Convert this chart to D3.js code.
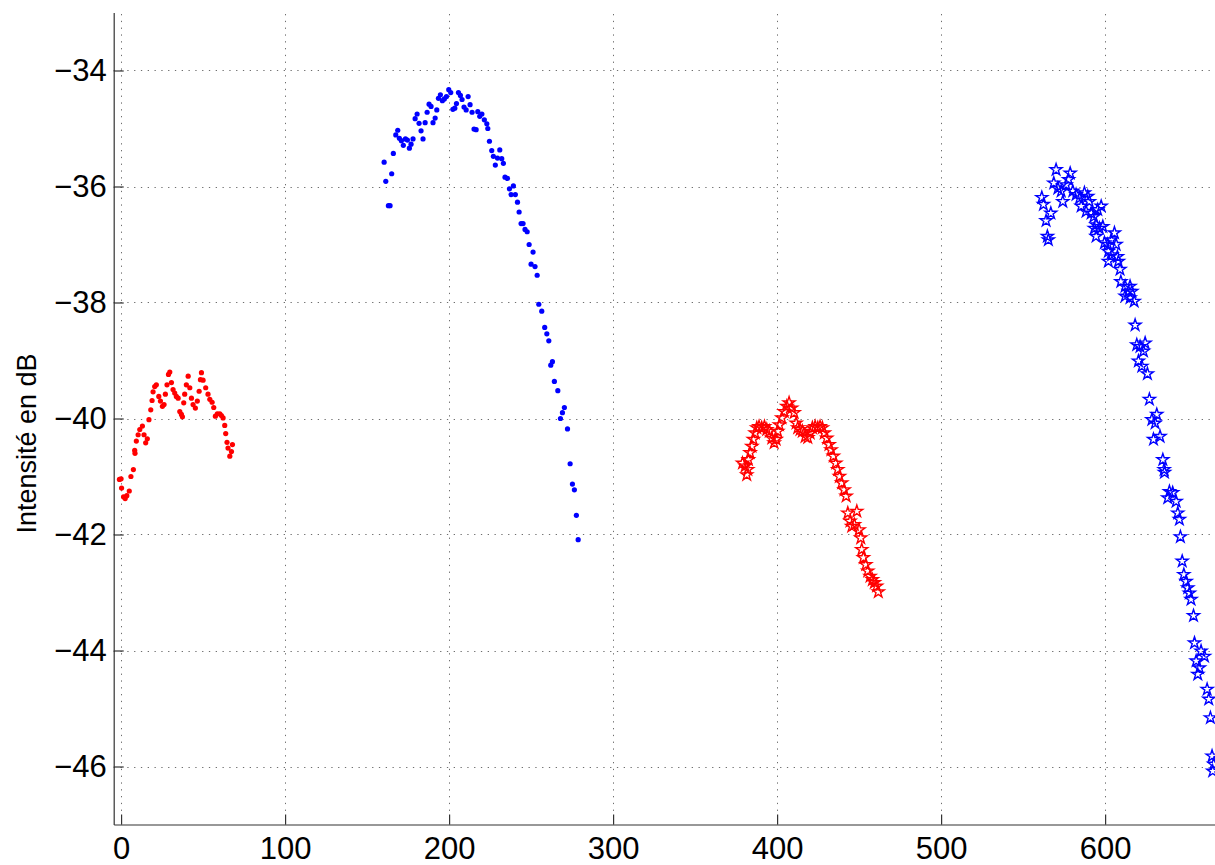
<!DOCTYPE html>
<html>
<head>
<meta charset="utf-8">
<script src="https://cdn.jsdelivr.net/npm/d3@7"></script>
<style>
  html, body { margin: 0; padding: 0; background: #fff; }
  svg { display: block; }
  text { font-family: "Liberation Sans", Arial, Helvetica, sans-serif; }
</style>
</head>
<body>
<svg id="chart" width="1215" height="865"></svg>
<script>
// ---- Data ----
const xTicks = [0, 100, 200, 300, 400, 500, 600];
const yTicks = [-46, -44, -42, -40, -38, -36, -34];
const yLabel = "Intensité en dB";

// Series 1: red dots
const s1x = [-1, 0, 0.3, 1.5, 2.5, 3.5, 5, 6, 7.5, 8.3, 8.5, 9.3, 10.4, 11.4, 13, 14, 15, 16, 17, 18.1, 18.9, 19.5, 20.5, 21.5, 23, 24, 25.2, 26.2, 27, 28, 28.9, 29.7, 30.7, 31.7, 32.7, 33.7, 34.8, 35.8, 36.8, 37.4, 38.2, 38.8, 39.8, 40.9, 41.9, 42.9, 43.9, 45.3, 46.5, 47.6, 48.4, 49, 50, 51.6, 53, 54.1, 55.5, 56.5, 57.5, 58.7, 60.2, 61.2, 62.2, 63.2, 63.8, 64.6, 65.2, 66.3, 67.3, 67.9];
const s1y = [-41.05, -41.04, -41.2, -41.35, -41.38, -41.33, -41.25, -41.0, -40.88, -40.55, -40.6, -40.39, -40.28, -40.19, -40.13, -40.28, -40.42, -40.35, -40.02, -39.85, -39.69, -39.54, -39.45, -39.42, -39.62, -39.7, -39.79, -39.76, -39.58, -39.42, -39.24, -39.2, -39.38, -39.5, -39.56, -39.62, -39.65, -39.88, -39.93, -39.97, -39.73, -39.58, -39.42, -39.27, -39.47, -39.65, -39.76, -39.82, -39.7, -39.53, -39.33, -39.21, -39.34, -39.47, -39.58, -39.67, -39.72, -39.81, -39.96, -39.92, -39.92, -39.95, -39.99, -40.12, -40.26, -40.41, -40.51, -40.65, -40.57, -40.45];

// Series 2: blue dots
const s2x = [160.4, 161.4, 163, 164, 165, 166, 167.5, 168.7, 169.7, 170.9, 172.1, 173.4, 174.6, 175.8, 176.8, 178, 179.3, 180.5, 181.7, 182.9, 184.1, 185.4, 186.6, 187.8, 189, 190.2, 191.5, 192.5, 193.5, 194.7, 195.9, 197.1, 198.4, 199.8, 201, 202.3, 203.5, 204.5, 205.7, 206.9, 207.9, 209.1, 210.4, 211.6, 212.8, 214, 215.2, 216.5, 217.5, 218.7, 220, 221.5, 223, 223.6, 224.6, 226, 227, 228.2, 229.5, 230.9, 232.1, 233.1, 234.1, 235.6, 236.8, 237.8, 239.2, 240.4, 241.7, 242.7, 243.9, 245.1, 246.3, 247.6, 248.8, 250, 251.2, 252.4, 253.7, 254.7, 256.5, 258.3, 259.6, 260.8, 262, 263, 264.2, 266.3, 267.9, 269.1, 270.3, 272.2, 273.8, 275.2, 276.4, 277.6, 278.7];
const s2y = [-35.58, -35.91, -36.33, -36.33, -35.78, -35.43, -35.11, -35.03, -35.17, -35.21, -35.29, -35.18, -35.2, -35.34, -35.27, -35.18, -34.83, -34.75, -34.91, -35.04, -35.18, -34.9, -34.72, -34.58, -34.62, -34.9, -34.82, -34.68, -34.48, -34.42, -34.52, -34.49, -34.45, -34.33, -34.38, -34.67, -34.65, -34.57, -34.38, -34.43, -34.5, -34.63, -34.68, -34.45, -34.59, -34.72, -35.01, -35.02, -34.71, -34.79, -34.75, -34.85, -34.92, -35.0, -35.22, -35.38, -35.48, -35.63, -35.51, -35.37, -35.52, -35.6, -35.84, -35.86, -36.04, -36.14, -35.99, -36.14, -36.27, -36.44, -36.64, -36.64, -36.74, -36.78, -37.0, -37.34, -37.13, -37.38, -37.53, -38.03, -38.15, -38.43, -38.54, -38.66, -39.08, -39.02, -39.36, -39.52, -40.0, -39.9, -39.81, -40.18, -40.78, -41.13, -41.23, -41.67, -42.09];

// Series 3: red stars
const s3x = [378.9, 380.5, 381.5, 382.1, 382.5, 383.5, 384.6, 385.5, 386.6, 387.6, 389, 390.6, 392.3, 393.7, 395.3, 396.8, 398.2, 399.4, 400.4, 401.4, 402.9, 404.3, 405.9, 407.3, 408.9, 410.4, 411.6, 412.6, 414, 415.4, 417.1, 418.7, 420.1, 421.5, 423.2, 424.8, 426.2, 427.6, 428.8, 430.3, 431.7, 432.9, 434.3, 435.8, 437, 438, 439.4, 440.9, 442.1, 443.1, 444.5, 445.5, 447.1, 448.6, 450, 451, 451.6, 452.6, 454.1, 455.3, 456.7, 458.1, 459.3, 460.7, 461.7];
const s3y = [-40.77, -40.82, -40.97, -40.88, -40.71, -40.59, -40.48, -40.36, -40.25, -40.16, -40.14, -40.16, -40.14, -40.19, -40.22, -40.34, -40.42, -40.36, -40.22, -40.11, -39.99, -39.88, -39.79, -39.73, -39.82, -39.9, -40.08, -40.16, -40.19, -40.22, -40.31, -40.33, -40.25, -40.16, -40.14, -40.16, -40.14, -40.16, -40.25, -40.34, -40.45, -40.54, -40.65, -40.77, -40.88, -41.0, -41.11, -41.23, -41.34, -41.63, -41.77, -41.86, -41.83, -41.6, -41.92, -42.06, -42.26, -42.4, -42.52, -42.63, -42.72, -42.78, -42.83, -42.89, -42.99];

// Series 4: blue stars
const s4x = [561.4, 562.4, 564, 564.8, 565.4, 566.9, 568.7, 570.1, 571.2, 573.2, 574.2, 576.2, 577.7, 578.7, 580.3, 582.3, 584.4, 585.4, 587.4, 588.4, 589.4, 590.4, 591.5, 593.1, 593.4, 594.5, 594.5, 595.5, 596.5, 597.6, 598.6, 599.6, 601.6, 602, 602, 603.7, 604.1, 605.7, 606.7, 607.5, 608.1, 609.1, 609.6, 612.2, 612.2, 614.2, 615.2, 615.2, 616.3, 617.7, 618.3, 619.3, 620.3, 621.3, 622.4, 623.4, 624.4, 625.8, 627, 628.5, 629.5, 630.5, 631.5, 633.5, 635.2, 636, 636.2, 638.2, 639.2, 641.2, 643.3, 644.3, 645.3, 645.9, 647, 648, 649.4, 650.4, 651.4, 652.4, 653.9, 654.5, 655.5, 656.5, 657.5, 658.5, 660.6, 662.2, 663.2, 664.2, 665.2, 665.6, 666.2];
const s4y = [-36.19, -36.31, -36.59, -36.86, -36.92, -36.46, -35.94, -35.71, -36.03, -36.08, -36.26, -35.97, -35.88, -35.77, -36.08, -36.14, -36.2, -36.34, -36.11, -36.43, -36.17, -36.26, -36.46, -36.52, -36.72, -36.66, -36.86, -36.4, -36.72, -36.34, -36.69, -36.97, -37.0, -37.12, -37.29, -36.92, -37.18, -36.8, -37.0, -37.21, -37.29, -37.43, -37.64, -37.72, -37.89, -37.81, -37.72, -37.92, -37.81, -37.98, -38.39, -38.73, -39.01, -38.76, -39.1, -38.84, -38.7, -39.23, -39.67, -40.02, -40.36, -40.08, -39.93, -40.31, -40.71, -40.88, -40.93, -41.37, -41.26, -41.28, -41.43, -41.63, -41.74, -42.04, -42.46, -42.69, -42.81, -42.92, -43.01, -43.12, -43.4, -43.87, -44.18, -44.41, -44.3, -44.01, -44.1, -44.67, -44.84, -45.16, -45.82, -46.08, -45.96];

// ---- Layout ----
const svg = d3.select("#chart");
const x = d3.scaleLinear().domain([-4.5, 667]).range([113.7, 1215]);
const y = d3.scaleLinear().domain([-47, -33]).range([824.5, 12.5]);
const X0 = x.range()[0], X1 = x.range()[1], Y0 = y.range()[0], Y1 = y.range()[1];

// Grid
const grid = svg.append("g").attr("class", "grid")
  .attr("stroke", "#6e6e6e").attr("stroke-width", 1).attr("stroke-dasharray", "1.3,5.5");
grid.selectAll("line.v").data(xTicks).join("line")
  .attr("x1", d => Math.round(x(d)) + 0.5).attr("x2", d => Math.round(x(d)) + 0.5)
  .attr("y1", Y0).attr("y2", Y1);
grid.selectAll("line.h").data(yTicks).join("line")
  .attr("y1", d => Math.round(y(d)) + 0.5).attr("y2", d => Math.round(y(d)) + 0.5)
  .attr("x1", X0).attr("x2", X1);

// Data
const zip = (xs, ys) => xs.map((v, i) => [v, ys[i]]);
const plot = svg.append("g");

function dots(data, color) {
  plot.append("g").selectAll("circle").data(data).join("circle")
    .attr("cx", d => x(d[0])).attr("cy", d => y(d[1])).attr("r", 2.6)
    .attr("fill", color);
}
const star = d3.symbol().type(d3.symbolStar).size(44);
function stars(data, color) {
  plot.append("g").selectAll("path").data(data).join("path")
    .attr("d", star)
    .attr("transform", d => `translate(${x(d[0])},${y(d[1])})`)
    .attr("fill", "none").attr("stroke", color).attr("stroke-width", 1.4)
    .attr("stroke-linejoin", "miter");
}
dots(zip(s1x, s1y), "#ff0000");
dots(zip(s2x, s2y), "#0000ff");
stars(zip(s3x, s3y), "#ff0000");
stars(zip(s4x, s4y), "#0000ff");

// Axes
const fmt = d => d3.format("")(d);
const xAxis = d3.axisBottom(x).tickValues(xTicks).tickSizeInner(-10).tickSizeOuter(0).tickPadding(12).tickFormat(fmt);
const yAxis = d3.axisLeft(y).tickValues(yTicks).tickSizeInner(-10).tickSizeOuter(0).tickPadding(7).tickFormat(fmt);

const gx = svg.append("g").attr("transform", `translate(0,${Y0})`).call(xAxis);
const gy = svg.append("g").attr("transform", `translate(${X0},0)`).call(yAxis);
[gx, gy].forEach(g => {
  g.select(".domain").attr("stroke", "#333").attr("stroke-width", 1.2);
  g.selectAll(".tick line").attr("stroke", "#333").attr("stroke-width", 1.2);
  g.selectAll(".tick text").attr("fill", "#000").attr("font-size", 31)
    .attr("font-family", "'Liberation Sans', Arial, sans-serif");
});
gx.selectAll(".tick text").attr("dy", "0.71em");

// Y label
svg.append("text")
  .attr("transform", `translate(36,${(Y0 + Y1) / 2 + 25}) rotate(-90)`)
  .attr("text-anchor", "middle")
  .attr("font-size", 27)
  .attr("fill", "#000")
  .text(yLabel);
</script>
</body>
</html>
